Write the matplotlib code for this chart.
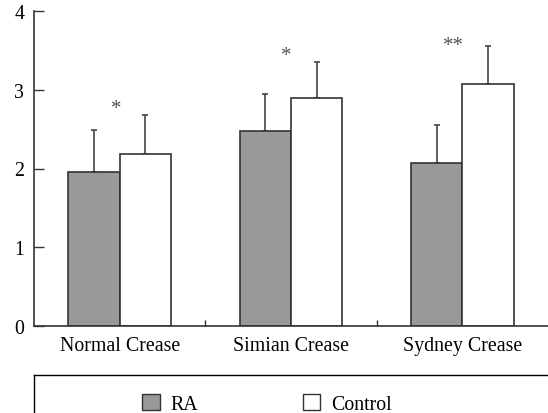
import numpy as np
import matplotlib
matplotlib.use('Agg')
import matplotlib.pyplot as plt
from matplotlib.patches import Patch
from matplotlib.lines import Line2D

# Data
categories = ['Normal Crease', 'Simian Crease', 'Sydney Crease']
ra_mean = [1.96, 2.47, 2.07]
ra_err = [0.53, 0.48, 0.48]
ctrl_mean = [2.18, 2.89, 3.07]
ctrl_err = [0.50, 0.46, 0.49]
stars = ['*', '*', '**']
star_y = [2.76, 3.43, 3.56]
star_dx = [-0.02, -0.03, -0.05]

plt.rcParams['font.family'] = ['Liberation Serif', 'DejaVu Serif']
plt.rcParams['font.size'] = 14.3

fig = plt.figure(figsize=(5.48, 4.14), dpi=100)
ax = fig.add_axes([34 / 548, 1 - 327 / 414, 1 - 34 / 548, (327 - 12) / 414])

x = np.arange(len(categories))
w = 0.30
edge = '#333333'

ax.bar(x - w / 2, ra_mean, w, color='#999999', edgecolor=edge, linewidth=1.2, zorder=2)
ax.bar(x + w / 2, ctrl_mean, w, color='white', edgecolor=edge, linewidth=1.2, zorder=2)
ax.errorbar(x - w / 2, ra_mean, yerr=[np.zeros(3), ra_err], fmt='none',
            ecolor='#444444', elinewidth=1.2, capsize=2.5, capthick=1.2, zorder=1)
ax.errorbar(x + w / 2, ctrl_mean, yerr=[np.zeros(3), ctrl_err], fmt='none',
            ecolor='#444444', elinewidth=1.2, capsize=2.5, capthick=1.2, zorder=1)

# significance stars
for xi, s, yy, dx in zip(x, stars, star_y, star_dx):
    ax.text(xi + dx, yy, s, ha='center', va='center', fontsize=15, color='#555555')

ax.set_xlim(-0.5, 2.5)
ax.set_ylim(0, 4)
ax.set_yticks([0, 1, 2, 3, 4])
ax.set_xticks(x)
ax.set_xticklabels(categories)
ax.set_xticks([0.5, 1.5], minor=True)
ax.tick_params(axis='x', which='major', length=0, pad=7)
ax.tick_params(axis='x', which='minor', direction='in', length=4, width=1, color=edge)
ax.tick_params(axis='y', direction='in', length=7, width=1, color=edge, pad=7)
ax.spines['top'].set_visible(False)
ax.spines['right'].set_visible(False)
for s in ['left', 'bottom']:
    ax.spines[s].set_color(edge)
    ax.spines[s].set_linewidth(1.2)

# legend box (open to the right and bottom)
y0 = 1 - 376 / 414
fig.add_artist(Line2D([34 / 548, 1.0], [y0, y0], color='black', linewidth=1.0))
fig.add_artist(Line2D([34 / 548, 34 / 548], [0, y0], color='black', linewidth=1.0))

handles = [Patch(facecolor='#999999', edgecolor=edge, linewidth=1.0, label='RA'),
           Patch(facecolor='white', edgecolor=edge, linewidth=1.0, label='Control')]
fig.legend(handles=handles, loc='center', bbox_to_anchor=(267 / 548, 1 - 405 / 414),
           ncol=2, frameon=False, handlelength=0.9, handleheight=0.9,
           handletextpad=0.53, columnspacing=5.25, fontsize=14.3)

fig.savefig('out.png', dpi=100)
